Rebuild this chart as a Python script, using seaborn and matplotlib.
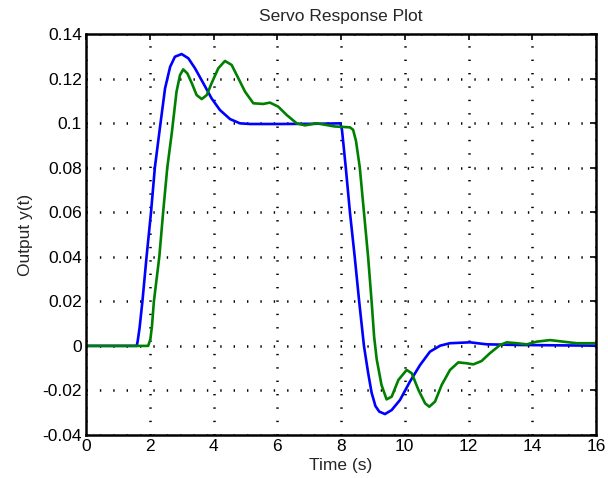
import numpy as np
import pandas as pd
import matplotlib
matplotlib.use("Agg")
import matplotlib.pyplot as plt
import seaborn as sns

# Series 1 (blue)
t_blue = [0, 1.59, 1.62, 1.68, 1.77, 1.90, 2.04, 2.16, 2.32, 2.48, 2.64, 2.79, 3.0, 3.21, 3.42,
          3.68, 3.94, 4.2, 4.52, 4.83, 5.15, 6.0, 7.24, 7.98, 8.03, 8.08, 8.15, 8.28, 8.43,
          8.57, 8.72, 8.85, 8.96, 9.08, 9.2, 9.38, 9.59, 9.85, 10.16, 10.48, 10.79, 11.11,
          11.42, 12.05, 12.57, 13.62, 16.0]
y_blue = [0, 0, 0.002, 0.008, 0.02, 0.04, 0.06, 0.08, 0.098, 0.1156, 0.1253, 0.1298, 0.131, 0.1291, 0.1246,
          0.1179, 0.1111, 0.1059, 0.1018, 0.0999, 0.0996, 0.0996, 0.0997, 0.0999, 0.097, 0.09, 0.08, 0.06, 0.04,
          0.02, 0.0, -0.012, -0.021, -0.027, -0.0295, -0.0306, -0.0288, -0.0243, -0.0161, -0.0086, -0.0026, 0.0001,
          0.0012, 0.0016, 0.0007, 0.0004, 0.0001]

# Series 2 (green)
t_green = [0, 1.95, 2.02, 2.07, 2.13, 2.30, 2.42, 2.55, 2.69, 2.84, 2.95, 3.05, 3.18, 3.32, 3.47,
           3.63, 3.79, 3.94, 4.15, 4.36, 4.57, 4.78, 4.99, 5.25, 5.56, 5.77, 6.03, 6.30, 6.61,
           6.87, 7.24, 7.8, 8.28, 8.38, 8.47, 8.59, 8.72, 8.85, 8.96, 9.04, 9.12, 9.27, 9.43,
           9.59, 9.80, 10.06, 10.22, 10.43, 10.64, 10.77, 10.95, 11.16, 11.42, 11.68, 11.94,
           12.15, 12.41, 12.67, 12.99, 13.2, 13.51, 13.83, 14.14, 14.56, 14.97, 15.39, 16.0]
y_green = [0, 0, 0.003, 0.009, 0.02, 0.04, 0.06, 0.08, 0.0954, 0.1141, 0.1216, 0.1241, 0.1223, 0.1179, 0.1126,
           0.1108, 0.1126, 0.1179, 0.1246, 0.1279, 0.1261, 0.1201, 0.1141, 0.1089, 0.1086, 0.1092, 0.1074, 0.1036, 0.0999,
           0.099, 0.0999, 0.0985, 0.0981, 0.097, 0.092, 0.08, 0.06, 0.04, 0.02, 0.004, -0.006, -0.0175, -0.024,
           -0.0228, -0.0153, -0.0108, -0.0123, -0.0198, -0.0258, -0.0273, -0.025, -0.0175, -0.0108, -0.0074, -0.0078,
           -0.0083, -0.0068, -0.0033, 0.0004, 0.0016, 0.0012, 0.0007, 0.0019, 0.0026, 0.0019, 0.0012, 0.0012]

x_ticks = [0, 2, 4, 6, 8, 10, 12, 14, 16]
y_ticks = [-0.04, -0.02, 0, 0.02, 0.04, 0.06, 0.08, 0.1, 0.12, 0.14]
y_tick_labels = ["-0.04", "-0.02", "0", "0.02", "0.04", "0.06", "0.08", "0.1", "0.12", "0.14"]

df = pd.concat([
    pd.DataFrame({"t": t_blue, "y": y_blue, "s": "blue"}),
    pd.DataFrame({"t": t_green, "y": y_green, "s": "green"}),
])

sns.set_style("white")
plt.rcParams["font.family"] = ["Liberation Sans", "DejaVu Sans"]

fig = plt.figure(figsize=(6.08, 4.78), dpi=100)
ax = fig.add_axes([86/608, 1-435/478, (596-86)/608, (435-34)/478])

sns.lineplot(data=df, x="t", y="y", hue="s", palette={"blue": (0, 0, 1), "green": (0, 0.5, 0)},
             estimator=None, sort=False, linewidth=1.9, legend=False, ax=ax)

ax.set_xlim(0, 16)
ax.set_ylim(-0.04, 0.14)
ax.set_xticks(x_ticks)
ax.set_xticklabels([str(v) for v in x_ticks])
ax.set_yticks(y_ticks)
ax.set_yticklabels(y_tick_labels)
ax.tick_params(direction="in", top=True, right=True, length=4, width=1.2,
               labelsize=12.5, colors="k", pad=3)
ax.grid(True, color="k", linestyle=(0, (0.55, 4.8)), linewidth=1.8)
for sp in ax.spines.values():
    sp.set_color("k")
    sp.set_linewidth(1.8)
    sp.set_visible(True)

ax.set_title("Servo Response Plot", fontsize=12.5, pad=9)
ax.set_xlabel("Time (s)", fontsize=12.5, labelpad=3)
ax.set_ylabel("Output y(t)", fontsize=12.5, labelpad=7)

fig.savefig("out.png", dpi=100, facecolor="white")
